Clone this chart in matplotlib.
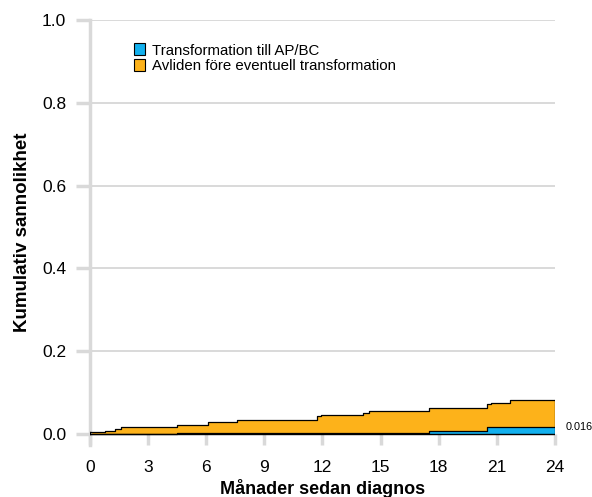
import matplotlib
matplotlib.use("Agg")
import matplotlib.pyplot as plt
import matplotlib.patches as mpatches
import numpy as np

plt.rcParams["font.family"] = ["Liberation Sans", "DejaVu Sans"]

# step times (months) and cumulative probabilities
TIME = [0, 0.8, 1.3, 1.6, 4.5, 6.1, 6.3, 7.6, 11.7, 11.9, 14.1, 14.4,
        17.5, 20.5, 20.7, 21.7, 24]
TRANSFORM = [0.0, 0.0, 0.0, 0.0, 0.002, 0.002, 0.002, 0.002, 0.002, 0.002,
             0.002, 0.002, 0.008, 0.016, 0.016, 0.016, 0.016]
TOTAL = [0.004, 0.008, 0.013, 0.017, 0.022, 0.028, 0.030, 0.033, 0.043,
         0.045, 0.051, 0.056, 0.063, 0.073, 0.076, 0.081, 0.081]

LABELS = ["Transformation till AP/BC", "Avliden före eventuell transformation"]
XTICKS = [0, 3, 6, 9, 12, 15, 18, 21, 24]
YTICKS = [0.0, 0.2, 0.4, 0.6, 0.8, 1.0]

BLUE = "#12b0ee"
ORANGE = "#fdb21a"
GREY = "#d9d9d9"

fig = plt.figure(figsize=(5.92, 4.97), dpi=100)
ax = fig.add_axes([0.152, 0.1046, 0.7855, 0.8552])

t = np.array(TIME)
blue = np.array(TRANSFORM)
tot = np.array(TOTAL)

for y in YTICKS[1:]:
    ax.axhline(y, color=GREY, lw=1.4, zorder=0)

ax.fill_between(t, 0, blue, step="post", color=BLUE, lw=0, zorder=2)
ax.fill_between(t, blue, tot, step="post", color=ORANGE, lw=0, zorder=2)
ax.step(t, tot, where="post", color="black", lw=0.9, zorder=3)
ax.step(t, blue, where="post", color="black", lw=0.9, zorder=3)
ax.plot([0, 24], [0, 0], color="black", lw=1.0, zorder=3)
ax.plot([24, 24], [0, tot[-1]], color="black", lw=0.9, zorder=3)
ax.plot([0, 0], [0, tot[0]], color="black", lw=0.9, zorder=3)

ax.annotate(f"{TRANSFORM[-1]:.3f}", xy=(24, TRANSFORM[-1]), xytext=(8, 0),
            textcoords="offset points", fontsize=7.8, va="center", ha="left")

ax.set_xlim(0, 24)
ax.set_ylim(-0.0266, 1.0)
ax.set_xticks(XTICKS)
ax.set_yticks(YTICKS)
ax.set_yticklabels([f"{v:.1f}" for v in YTICKS])
ax.tick_params(axis="y", length=10, width=2.5, color=GREY, direction="out",
               labelsize=12.5, pad=7)
ax.tick_params(axis="x", length=8, width=2.5, color=GREY, direction="in",
               labelsize=12.5, pad=11)
ax.xaxis.set_ticks_position("bottom")
for s in ["top", "right", "bottom"]:
    ax.spines[s].set_visible(False)
ax.spines["left"].set_color(GREY)
ax.spines["left"].set_linewidth(2.5)
ax.set_facecolor("white")

ax.set_xlabel("Månader sedan diagnos", fontsize=13, fontweight="bold", labelpad=3)
ax.set_ylabel("Kumulativ sannolikhet", fontsize=13.5, fontweight="bold", labelpad=8)

handles = [mpatches.Patch(facecolor=BLUE, edgecolor="black", lw=0.8, label=LABELS[0]),
           mpatches.Patch(facecolor=ORANGE, edgecolor="black", lw=0.8, label=LABELS[1])]
ax.legend(handles=handles, loc="upper left", bbox_to_anchor=(0.094, 0.945),
          frameon=False, fontsize=10.8, borderpad=0, handlelength=0.75,
          handleheight=0.85, handletextpad=0.45, labelspacing=0.1,
          borderaxespad=0)

fig.savefig("out.png", dpi=100, facecolor="white")
